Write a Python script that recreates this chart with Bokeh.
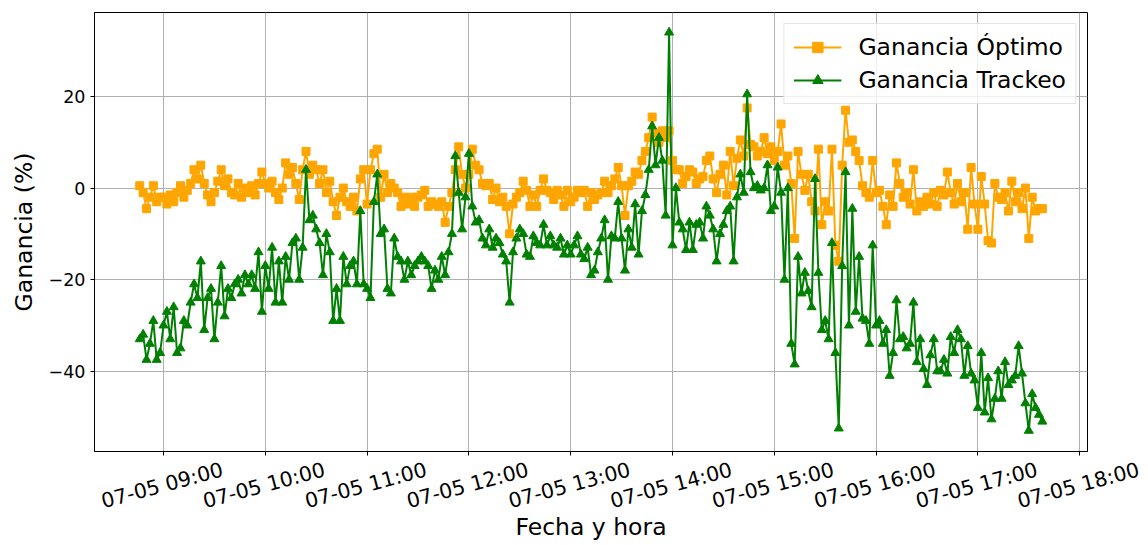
import math
import pandas as pd
from bokeh.plotting import figure
from bokeh.models import (Range1d, FixedTicker, ColumnDataSource, Legend,
                          LegendItem, DatetimeAxis)
from bokeh.embed import file_html
from bokeh.resources import INLINE

# ---------------- data ----------------
start_time = "2019-07-05 08:46"
step = "2min"

optimo = [
    # 08:46-08:58
    0.5, -1, -4.5, -2, 0.5, -3, -2,
    # 09:00-09:58
    -2, -3.5, -1.5, -3, -1, 0.5, -2, -0.5, 1, 4,
    2, 5, 1, -1.5, -3, -1, 1.5, 4, 0.5, 2,
    -1, -1.5, 1, -2, 0, -1, 0.5, -1.5, 1, 3.5,
    # 10
    1, 0, 1.5, -1, -2.5, 0, 5.5, 3, 4.5, 1,
    -2.5, 4, 8, 3, 5, 4, 1, 4, -1, 1.5,
    -3, -6, -2, 0, -3, -4, -2, -5, 2, 4,
    # 11
    -3.5, 4, 7.5, 8.5, -2, 3, -1, 1, 0, -1,
    -4, -2, -3.5, -2, -4, -2, -1.5, -0.5, -4, -3,
    -3.5, -4, -3, -7.5, -4, -1, 4, 9, 3, 0,
    # 12
    3, 8.5, 5, 4, 1, 0.5, 1, -2.5, 0, -3,
    -2, -4, -10, -3.5, -2, -1, 1.5, -0.5, -4, -1.5,
    -4, -0.5, 2, -0.5, -1, -2.5, -0.5, -1.5, -4, -0.5,
    # 13
    -3, -2, -0.5, -1, -0.5, -4, -1, -2.5, -1.5, -1,
    1.5, -1, 0.5, 2, 4.5, 0.5, -6, 0.5, 1.5, 3.5,
    3, 6, 8, 11, 15.5, 12, 10, 12.5, 11, 12.5,
    # 14
    6, 4, 4, 1, 2.5, 4, 3.5, 1, 2, 2.5,
    6, 7, 2, -1, 3, 5, -1.5, 8, 0.5, 6.5,
    10.5, 7, 17.5, 9.5, 9, 7, 8, 11, 7.5, 9,
    # 15
    6, 8, 14, 5, 7, 1, -11, 8, 3, -0.5,
    3, -3, -5, 8.5, -8, -3, -5, 8.5, -12.5, -16,
    5, 17, 10, 10.5, 8, 6, 0.5, -1, -2, 6,
    # 16
    -1, -0.5, -4, -8, -1.5, -4, 5.5, 1, -2, -1,
    -3.5, 4, -5, -3, -4, -2, -3.5, -1, -4, -0.5,
    -1.5, 3.5, -1, -3.5, 1, -3, -1, -9, 4.5, -3.5,
    # 17:00-17:38
    -9, 2.5, -3.5, -11.5, -12, 1, -2, -2.5, -1, -5,
    1.5, -3, -1, -4.5, 0, -11, -2, -5, -4.5, -4.5,
]

trackeo = [
    # 08:46-08:58
    -33, -32, -37.5, -34, -29, -37.5, -36,
    # 09
    -30, -27, -33, -26, -36, -35, -29, -30, -25, -21,
    -24, -16, -31, -24, -22, -33, -25, -17, -28, -22,
    -24, -21, -20, -23, -19, -21, -19, -22, -14, -27,
    # 10
    -17, -22, -13, -25, -16, -25, -15, -20, -12, -11,
    -20, -13, 4, -7, -6, -9, -12, -19, -10, -14,
    -29, -22, -29, -15, -21, -17, -16, -21, -5, -21,
    # 11
    -22, -24, -3, 3, -10, -9, -22, -23, -11, -15,
    -16, -20, -16, -19, -17, -16, -15, -16, -17, -22,
    -18, -20, -15, -19, -14, -10, 7, -1, -9, -2,
    # 12
    7.5, -4, -7.5, -7, -11, -12.5, -9, -13, -11, -12,
    -14.5, -16, -25, -14, -11, -9, -10, -14.5, -15, -10.5,
    -12, -12.5, -8, -12.5, -10.5, -12.5, -13, -11, -14.5, -12.5,
    # 13
    -14.5, -12.5, -10.5, -14.5, -15.5, -13, -19, -18, -14, -11,
    -7, -20, -10.5, -11, -3, -11, -18, -9, -13, -3.5,
    -14.5, -5, -1.5, 4, 13.5, 5, 11, 6, -6, 34,
    # 14
    -12.5, 0, -7.5, -9, -13.5, -7.5, -13.5, -8, -7.5, -11,
    -4, -6, -9, -16, -10, -8, -5, -4, -16, -2,
    3, -1, 20.5, 3.5, 0, 0.5, -0.5, 0, 5, -5,
    # 15
    -4, 4.5, -1, -20, 0, -34, -38.5, -15, -23, -18.5,
    -22.5, -26, 2, -18.5, -31, -29, -33, -12, -36, -52.5,
    -17, 3.5, -30, -4.5, -27, -15, -28.5, -29, -34, -12.5,
    # 16
    -30, -29, -34, -31, -41, -36, -24.5, -33, -32.5, -35,
    -34, -25, -38, -33, -39.5, -43, -36.5, -33, -40, -40,
    -37.5, -40.5, -32.5, -36, -31, -33, -41, -34.5, -40.5, -42,
    # 17:00-17:38
    -48, -36, -49, -41.5, -50.5, -46, -40, -46, -38, -43,
    -42, -41, -34.5, -40.5, -47, -53, -45, -48, -49.5, -51,
]

x_tick_times = ["2019-07-05 09:00", "2019-07-05 10:00", "2019-07-05 11:00",
                "2019-07-05 12:00", "2019-07-05 13:00", "2019-07-05 14:00",
                "2019-07-05 15:00", "2019-07-05 16:00", "2019-07-05 17:00",
                "2019-07-05 18:00"]
x_tick_labels = ["07-05 09:00", "07-05 10:00", "07-05 11:00", "07-05 12:00",
                 "07-05 13:00", "07-05 14:00", "07-05 15:00", "07-05 16:00",
                 "07-05 17:00", "07-05 18:00"]
y_ticks = [-40, -20, 0, 20]
y_tick_labels = ["\u221240", "\u221220", "0", "20"]

series_names = ["Ganancia Óptimo", "Ganancia Trackeo"]
x_title = "Fecha y hora"
y_title = "Ganancia (%)"

# ---------------- layout constants ----------------
FONT = "DejaVu Sans"
XTICK_FS = "20.5px"
YTICK_FS = "17.5px"
LABEL_FS = "23.5px"
W, H = 1148, 545
B_LEFT, B_RIGHT, B_TOP, B_BOTTOM = 94, 61, 12, 94
X_START = pd.Timestamp("2019-07-05 08:19:20")
X_END = pd.Timestamp("2019-07-05 18:04:36")
LABEL_SHIFT_PX = 62.4     # rotated labels are centred on their tick

n = min(len(optimo), len(trackeo))
times = pd.date_range(start_time, periods=n, freq=step)
src = ColumnDataSource(dict(t=times, opt=optimo[:n], trk=trackeo[:n]))

p = figure(width=W, height=H, x_axis_type="datetime",
           output_backend="svg", toolbar_location=None,
           x_range=Range1d(X_START, X_END), y_range=Range1d(-57.55, 38.35),
           min_border_left=B_LEFT, min_border_right=B_RIGHT,
           min_border_top=B_TOP, min_border_bottom=B_BOTTOM)
p.background_fill_color = "white"
p.border_fill_color = "white"
p.outline_line_color = "black"
p.outline_line_width = 1
p.outline_line_alpha = 1

l1 = p.line("t", "opt", source=src, line_color="orange", line_width=2)
s1 = p.scatter("t", "opt", source=src, marker="square", size=8,
               fill_color="orange", line_color="orange")
l2 = p.line("t", "trk", source=src, line_color="green", line_width=2)
s2 = p.scatter("t", "trk", source=src, marker="triangle", size=9,
               fill_color="green", line_color="green")

for g in (p.xgrid, p.ygrid):
    g.grid_line_color = "#b0b0b0"
    g.grid_line_width = 1

# ---- x axis 1: tick marks only
tick_ms = [int(pd.Timestamp(t).value // 10**6) for t in x_tick_times]
ax1 = p.below[0]
ax1.ticker = FixedTicker(ticks=tick_ms)
ax1.major_label_overrides = {ms: "" for ms in tick_ms}
ax1.major_label_text_font_size = "1px"
ax1.major_label_standoff = 0
ax1.axis_line_color = "black"
ax1.major_tick_line_color = "black"
ax1.major_tick_out = 4
ax1.major_tick_in = 0
ax1.minor_tick_line_color = None

# ---- x axis 2: rotated tick labels (15 deg, centred on ticks) + title
px = (X_END - X_START) / (W - B_LEFT - B_RIGHT)
p.extra_x_ranges = {"labels": Range1d(X_START + LABEL_SHIFT_PX * px,
                                      X_END + LABEL_SHIFT_PX * px)}
ax2 = DatetimeAxis(x_range_name="labels")
ax2.ticker = FixedTicker(ticks=tick_ms)
ax2.major_label_overrides = {ms: lab for ms, lab in zip(tick_ms, x_tick_labels)}
ax2.major_label_orientation = math.radians(15) - 2 * math.pi
ax2.major_label_standoff = 46
ax2.major_label_text_font = FONT
ax2.major_label_text_font_size = XTICK_FS
ax2.major_label_text_color = "black"
ax2.major_tick_out = 0
ax2.major_tick_in = 0
ax2.major_tick_line_color = None
ax2.minor_tick_line_color = None
ax2.axis_line_color = None
ax2.axis_label = x_title
ax2.axis_label_standoff = -1
ax2.axis_label_text_font = FONT
ax2.axis_label_text_font_size = LABEL_FS
ax2.axis_label_text_font_style = "normal"
ax2.axis_label_text_color = "black"
p.add_layout(ax2, "below")

# ---- y axis
p.yaxis.ticker = FixedTicker(ticks=y_ticks)
p.yaxis.major_label_overrides = {t: lab for t, lab in zip(y_ticks, y_tick_labels)}
p.yaxis.major_label_text_font = FONT
p.yaxis.major_label_text_font_size = YTICK_FS
p.yaxis.major_label_text_color = "black"
p.yaxis.major_label_standoff = 5
p.yaxis.axis_label = y_title
p.yaxis.axis_label_standoff = 8
p.yaxis.axis_label_text_font = FONT
p.yaxis.axis_label_text_font_size = LABEL_FS
p.yaxis.axis_label_text_font_style = "normal"
p.yaxis.axis_label_text_color = "black"
p.yaxis.axis_line_color = "black"
p.yaxis.major_tick_line_color = "black"
p.yaxis.major_tick_out = 4
p.yaxis.major_tick_in = 0
p.yaxis.minor_tick_line_color = None

legend = Legend(items=[LegendItem(label=series_names[0], renderers=[l1, s1]),
                       LegendItem(label=series_names[1], renderers=[l2, s2])],
                location="top_right")
legend.label_text_font = FONT
legend.label_text_font_size = LABEL_FS
legend.label_text_color = "black"
legend.glyph_width = 48
legend.glyph_height = 26
legend.label_height = 26
legend.label_standoff = 17
legend.padding = 9
legend.spacing = 5
legend.margin = 11
legend.border_line_color = "#cccccc"
legend.border_line_width = 1
legend.background_fill_color = "white"
legend.background_fill_alpha = 0.8
p.add_layout(legend)

open("out.html", "w").write(file_html(p, INLINE))
